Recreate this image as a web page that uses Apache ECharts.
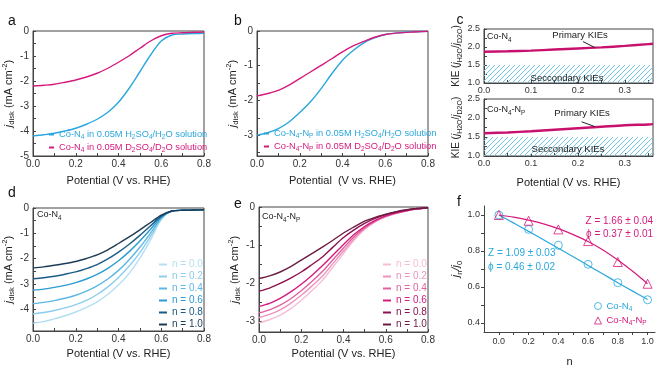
<!DOCTYPE html>
<html><head><meta charset="utf-8">
<script src="https://cdn.jsdelivr.net/npm/echarts@6/dist/echarts.min.js"></script>
<style>html,body{margin:0;padding:0;background:#fff}#c{width:666px;height:368px}</style>
</head><body><div id="c"></div>
<script>
// ---------- data ----------
const potential = [0,0.05,0.1,0.15,0.2,0.25,0.3,0.35,0.4,0.45,0.5,0.55,0.6,0.65,0.7,0.75,0.8];
// panel a : Co-N4
const aH2O = [-4.20,-4.15,-4.09,-4.00,-3.89,-3.73,-3.53,-3.25,-2.85,-2.29,-1.63,-0.96,-0.40,-0.16,-0.12,-0.10,-0.09];
const aD2O = [-2.20,-2.17,-2.13,-2.05,-1.96,-1.84,-1.69,-1.49,-1.25,-0.99,-0.69,-0.40,-0.19,-0.09,-0.07,-0.05,-0.04];
// panel b : Co-N4-NP
const bH2O = [-3.00,-2.93,-2.81,-2.62,-2.35,-2.04,-1.66,-1.23,-0.84,-0.56,-0.34,-0.20,-0.10,-0.06,-0.03,-0.02,-0.01];
const bD2O = [-1.87,-1.80,-1.71,-1.56,-1.37,-1.18,-0.99,-0.80,-0.60,-0.43,-0.30,-0.18,-0.10,-0.06,-0.04,-0.02,-0.01];
// panel d : Co-N4, proton inventory
const nLabels = ['n = 0.0','n = 0.2','n = 0.4','n = 0.6','n = 0.8','n = 1.0'];
const d_n00 = [-4.54,-4.48,-4.37,-4.25,-4.10,-3.92,-3.70,-3.40,-3.04,-2.58,-1.98,-1.26,-0.46,-0.12,-0.09,-0.08,-0.07];
const d_n02 = [-4.17,-4.12,-4.04,-3.94,-3.81,-3.64,-3.41,-3.11,-2.74,-2.29,-1.76,-1.12,-0.43,-0.12,-0.09,-0.08,-0.07];
const d_n04 = [-3.77,-3.72,-3.65,-3.56,-3.44,-3.28,-3.07,-2.80,-2.46,-2.04,-1.55,-0.99,-0.40,-0.12,-0.09,-0.08,-0.07];
const d_n06 = [-3.24,-3.20,-3.13,-3.05,-2.94,-2.80,-2.62,-2.38,-2.08,-1.72,-1.30,-0.84,-0.36,-0.12,-0.09,-0.08,-0.07];
const d_n08 = [-2.79,-2.75,-2.69,-2.61,-2.52,-2.39,-2.23,-2.01,-1.74,-1.43,-1.08,-0.70,-0.32,-0.12,-0.09,-0.08,-0.07];
const d_n10 = [-2.36,-2.32,-2.26,-2.19,-2.11,-1.99,-1.85,-1.65,-1.40,-1.14,-0.86,-0.57,-0.28,-0.12,-0.09,-0.08,-0.07];
// panel e : Co-N4-NP, proton inventory
const e_n00 = [-3.03,-2.95,-2.83,-2.66,-2.44,-2.19,-1.92,-1.57,-1.22,-0.87,-0.59,-0.39,-0.26,-0.17,-0.10,-0.05,-0.02];
const e_n02 = [-2.89,-2.81,-2.69,-2.52,-2.31,-2.07,-1.81,-1.48,-1.15,-0.83,-0.57,-0.38,-0.25,-0.16,-0.10,-0.05,-0.02];
const e_n04 = [-2.77,-2.69,-2.57,-2.40,-2.19,-1.95,-1.69,-1.38,-1.07,-0.78,-0.54,-0.37,-0.24,-0.16,-0.10,-0.05,-0.02];
const e_n06 = [-2.60,-2.52,-2.39,-2.22,-2.02,-1.79,-1.54,-1.26,-0.98,-0.72,-0.51,-0.35,-0.23,-0.15,-0.09,-0.05,-0.02];
const e_n08 = [-2.20,-2.12,-2.00,-1.86,-1.70,-1.51,-1.31,-1.05,-0.80,-0.60,-0.43,-0.30,-0.20,-0.13,-0.08,-0.04,-0.02];
const e_n10 = [-1.87,-1.80,-1.70,-1.56,-1.39,-1.22,-1.05,-0.87,-0.68,-0.52,-0.37,-0.27,-0.19,-0.12,-0.07,-0.04,-0.02];
// panel c : KIE
const kieX = [0,0.05,0.1,0.15,0.2,0.25,0.3,0.35,0.36];
const kieCoN4 = [1.87,1.88,1.90,1.93,1.96,1.99,2.03,2.08,2.09];
const kieCoN4NP = [1.60,1.62,1.65,1.69,1.73,1.77,1.81,1.83,1.84];
// panel f : proton inventory fit
const fN = [0,0.2,0.4,0.6,0.8,1.0];
const fCoN4 = [1.0,0.92,0.832,0.726,0.624,0.529];
const fCoN4NP = [1.0,0.968,0.92,0.855,0.739,0.618];
const fFitN = [0,0.1,0.2,0.3,0.4,0.5,0.6,0.7,0.8,0.9,1.0];
const fFitCoN4 = [1.0,0.955,0.909,0.862,0.815,0.768,0.72,0.672,0.624,0.577,0.53];
const fFitCoN4NP = [1.0,0.988,0.972,0.951,0.924,0.891,0.853,0.806,0.75,0.687,0.618];
// tick labels
const lsvXLabels = [0,0.2,0.4,0.6,0.8];
const lsvXTicks = [0,0.1,0.2,0.3,0.4,0.5,0.6,0.7,0.8];
const aYLabels = [-5,-4,-3,-2,-1,0];
const aYTicks = [-5,-4.5,-4,-3.5,-3,-2.5,-2,-1.5,-1,-0.5,0];
const bYLabels = [-3,-2,-1,0];
const bYTicks = [-3.5,-3,-2.5,-2,-1.5,-1,-0.5,0];
const dYLabels = [-4,-3,-2,-1,0];
const dYTicks = [-4.5,-4,-3.5,-3,-2.5,-2,-1.5,-1,-0.5,0];
const eYLabels = [-3,-2,-1,0];
const eYTicks = [-3,-2.5,-2,-1.5,-1,-0.5,0];
const cXLabels = [0,0.1,0.2,0.3];
const cXTicks = [0,0.05,0.1,0.15,0.2,0.25,0.3,0.35];
const cYLabels = [1.0,1.5,2.0,2.5];
const cYTicks = [1.0,1.25,1.5,1.75,2.0,2.25,2.5];
const fXLabels = [0,0.2,0.4,0.6,0.8,1.0];
const fXTicks = [0,0.1,0.2,0.3,0.4,0.5,0.6,0.7,0.8,0.9,1.0];
const fYLabels = [0.4,0.6,0.8,1.0];
const fYTicks = [0.4,0.5,0.6,0.7,0.8,0.9,1.0];

// ---------- style ----------
const FF = 'Liberation Sans, Arial, Helvetica, sans-serif';
const CY = '#2aa7dc', MG = '#d61a7d', KIEC = '#c8116f', AX = '#444';
const dColors = ['#b4dff2','#8ccdec','#5cb8e3','#2a9bd3','#1b5c86','#1c3b56'];
const eColors = ['#f6bdd6','#ee93bf','#e2609f','#d41a80','#8c124f','#6b1c42'];

function R(F){
  const s = +(F*0.7).toFixed(1), L = Math.round(F*1.35);
  return {
    n:{fontSize:F, lineHeight:L, verticalAlign:'middle', fontFamily:FF},
    i:{fontSize:F, lineHeight:L, verticalAlign:'middle', fontStyle:'italic', fontFamily:FF},
    s:{fontSize:s, lineHeight:s, verticalAlign:'bottom', fontFamily:FF},
    p:{fontSize:s, lineHeight:s, verticalAlign:'top', fontFamily:FF}
  };
}

// hatch pattern
const pc = document.createElement('canvas');
pc.width = 5; pc.height = 5;
const ctx = pc.getContext('2d');
ctx.strokeStyle = '#74c6e6'; ctx.lineWidth = 1;
ctx.beginPath();
ctx.moveTo(0,5); ctx.lineTo(5,0);
ctx.moveTo(-1,1); ctx.lineTo(1,-1);
ctx.moveTo(4,6); ctx.lineTo(6,4);
ctx.stroke();

const grids = [
  {left:33, top:31, width:171, height:125},
  {left:257, top:31, width:171, height:125},
  {left:484, top:29, width:169, height:54},
  {left:484, top:99, width:169, height:57},
  {left:33, top:208, width:171, height:123},
  {left:259, top:207, width:169, height:125},
  {left:484, top:206, width:171, height:126}
].map((g,i)=>Object.assign({show: i!==6, borderColor:AX, borderWidth:1, containLabel:false}, g));

function axis(kind, gi, min, max, labels, ticks, o){
  o = o || {};
  return {
    type:'value', gridIndex:gi, min, max,
    axisLine:{show:true, onZero:false, lineStyle:{color:AX, width:1}},
    axisTick:{show:true, inside: !o.out, length:3, customValues:ticks, lineStyle:{color:AX}},
    axisLabel:{customValues:labels, formatter: o.fmt || (v=>v.toFixed(1)), color:'#333', fontSize:o.fs||10, margin:o.margin||3, fontFamily:FF},
    splitLine:{show:false},
    name:o.name||'', nameLocation:'middle', nameGap:o.gap||18,
    nameTextStyle:{fontSize:o.nfs||11, color:'#222', fontFamily:FF, rich:R(o.nfs||11)}
  };
}
const intFmt = v => String(v);
const jdisk = '{i|j}{s|disk}{n| (mA cm}{p|-2}{n|)}';
const POT = 'Potential (V vs. RHE)';
const kieName = '{n|KIE (}{i|j}{s|H2O}{n|/}{i|j}{s|D2O}{n|)}';

const xAxes = [
  axis('x',0,0,0.8,lsvXLabels,lsvXTicks,{name:POT,gap:19}),
  axis('x',1,0,0.8,lsvXLabels,lsvXTicks,{name:'Potential  (V vs. RHE)',gap:19}),
  axis('x',2,0,0.36,cXLabels,cXTicks,{fs:9}),
  axis('x',3,0,0.36,cXLabels,cXTicks,{fs:9,name:POT,gap:21}),
  axis('x',4,0,0.8,lsvXLabels,lsvXTicks,{name:POT,gap:17}),
  axis('x',5,0,0.8,lsvXLabels,lsvXTicks,{name:POT,gap:16}),
  axis('x',6,-0.1,1.05,fXLabels,fXTicks,{fs:9,out:true,margin:5,name:'n',gap:24})
];
const yAxes = [
  axis('y',0,-5,0,aYLabels,aYTicks,{fmt:intFmt,name:jdisk,gap:16,margin:4}),
  axis('y',1,-3.6,0,bYLabels,bYTicks,{fmt:intFmt,name:jdisk,gap:16,margin:4}),
  axis('y',2,1.0,2.5,cYLabels,cYTicks,{fs:9,name:kieName,gap:19,nfs:10,margin:4}),
  axis('y',3,1.0,2.5,cYLabels,cYTicks,{fs:9,name:kieName,gap:19,nfs:10,margin:4}),
  axis('y',4,-4.85,0,dYLabels,dYTicks,{fmt:intFmt,name:jdisk,gap:16,margin:4}),
  axis('y',5,-3.27,0,eYLabels,eYTicks,{fmt:intFmt,name:jdisk,gap:15,margin:4}),
  axis('y',6,0.35,1.05,fYLabels,fYTicks,{fs:9,out:true,margin:4,name:'{i|j}{s|n}{i|/j}{s|0}',gap:19})
];

function line(name, gi, xs, ys, color, width){
  return {name, type:'line', xAxisIndex:gi, yAxisIndex:gi, data:xs.map((x,i)=>[x,ys[i]]),
    smooth:0.3, symbol:'none', showSymbol:false,
    lineStyle:{color, width:width||1.4}, itemStyle:{color}, animation:false, z:3};
}

const series = [
  line('aH',0,potential,aH2O,CY),
  line('aD',0,potential,aD2O,MG),
  line('bH',1,potential,bH2O,CY),
  line('bD',1,potential,bD2O,MG)
];
[d_n00,d_n02,d_n04,d_n06,d_n08,d_n10].forEach((arr,i)=>series.push(line('d'+nLabels[i],4,potential,arr,dColors[i],1.4)));
[e_n00,e_n02,e_n04,e_n06,e_n08,e_n10].forEach((arr,i)=>series.push(line('e'+nLabels[i],5,potential,arr,eColors[i],1.4)));

function kieSeries(gi, ys, arrow){
  const s = line('kie'+gi, gi, kieX, ys, KIEC, 2.4);
  s.markArea = {silent:true, itemStyle:{color:{image:pc, repeat:'repeat'}}, data:[[{yAxis:1.0},{yAxis:1.5}]]};
  s.markLine = {silent:true, symbol:['none','arrow'], symbolSize:[0,6], animation:false,
    lineStyle:{color:'#222', width:1, type:'solid'}, label:{show:false},
    data:[[{coord:arrow[0]},{coord:arrow[1]}]]};
  return s;
}
series.push(kieSeries(2, kieCoN4, [[0.211,2.15],[0.236,1.985]]));
series.push(kieSeries(3, kieCoN4NP, [[0.208,1.90],[0.236,1.775]]));

series.push(line('fitA',6,fFitN,fFitCoN4,CY,1.2));
series.push(line('fitB',6,fFitN,fFitCoN4NP,MG,1.2));
series.push({name:'fA', type:'scatter', xAxisIndex:6, yAxisIndex:6, data:fN.map((x,i)=>[x,fCoN4[i]]),
  symbol:'circle', symbolSize:8, itemStyle:{color:'rgba(255,255,255,0)', borderColor:CY, borderWidth:1}, animation:false, z:4});
series.push({name:'fB', type:'scatter', xAxisIndex:6, yAxisIndex:6, data:fN.map((x,i)=>[x,fCoN4NP[i]]),
  symbol:'triangle', symbolSize:9, itemStyle:{color:'rgba(255,255,255,0)', borderColor:MG, borderWidth:1}, animation:false, z:4});

const legText = {
  aH:'{n|Co-N}{s|4}{n| in 0.05M H}{s|2}{n|SO}{s|4}{n|/H}{s|2}{n|O solution}',
  aD:'{n|Co-N}{s|4}{n| in 0.05M D}{s|2}{n|SO}{s|4}{n|/D}{s|2}{n|O solution}',
  bH:'{n|Co-N}{s|4}{n|-N}{s|P}{n| in 0.05M H}{s|2}{n|SO}{s|4}{n|/H}{s|2}{n|O solution}',
  bD:'{n|Co-N}{s|4}{n|-N}{s|P}{n| in 0.05M D}{s|2}{n|SO}{s|4}{n|/D}{s|2}{n|O solution}',
  fA:'{n|Co-N}{s|4}',
  fB:'{n|Co-N}{s|4}{n|-N}{s|P}'
};
function legFmt(n){ return legText[n] !== undefined ? legText[n] : n.slice(1); }
const legends = [
  {left:49, top:130, orient:'vertical', itemGap:2, itemWidth:5, itemHeight:2, icon:'rect', padding:0, selectedMode:false,
   data:[{name:'aH',textStyle:{color:CY}},{name:'aD',textStyle:{color:MG}}], formatter:legFmt, textStyle:{fontSize:9.3, fontFamily:FF, rich:R(9.3)}},
  {left:264, top:129, orient:'vertical', itemGap:2, itemWidth:5, itemHeight:2, icon:'rect', padding:0, selectedMode:false,
   data:[{name:'bH',textStyle:{color:CY}},{name:'bD',textStyle:{color:MG}}], formatter:legFmt, textStyle:{fontSize:9.3, fontFamily:FF, rich:R(9.3)}},
  {left:159, top:259, orient:'vertical', itemGap:1, itemWidth:8, itemHeight:2, icon:'rect', padding:0, selectedMode:false,
   data:nLabels.map((l,i)=>({name:'d'+l, textStyle:{color:dColors[i]}})), formatter:legFmt, textStyle:{fontSize:10, fontFamily:FF, lineHeight:11}},
  {left:383, top:259, orient:'vertical', itemGap:1, itemWidth:8, itemHeight:2, icon:'rect', padding:0, selectedMode:false,
   data:nLabels.map((l,i)=>({name:'e'+l, textStyle:{color:eColors[i]}})), formatter:legFmt, textStyle:{fontSize:10, fontFamily:FF, lineHeight:11}},
  {left:594, top:301, orient:'vertical', itemGap:3, itemWidth:7, itemHeight:7, padding:0, selectedMode:false,
   data:[{name:'fA', icon:'circle', itemStyle:{color:'rgba(255,255,255,0)', borderColor:CY, borderWidth:1}, textStyle:{color:CY}},
         {name:'fB', icon:'triangle', itemStyle:{color:'rgba(255,255,255,0)', borderColor:MG, borderWidth:1}, textStyle:{color:MG}}],
   formatter:legFmt, textStyle:{fontSize:9.5, fontFamily:FF, rich:R(9.5)}}
];

function txt(x, y, text, opt){
  opt = opt || {};
  return {type:'text', x, y, silent:true, z:10, style:{text, fill:opt.fill||'#222', fontSize:opt.fs||9, fontFamily:FF,
    align:opt.align||'left', verticalAlign:'middle', rich:R(opt.fs||9), fontStyle:opt.italic?'italic':'normal'}};
}
const graphics = [
  txt(12,21,'a',{fs:14,align:'center',fill:'#111'}),
  txt(238,21,'b',{fs:14,align:'center',fill:'#111'}),
  txt(460,20,'c',{fs:14,align:'center',fill:'#111'}),
  txt(12,193,'d',{fs:14,align:'center',fill:'#111'}),
  txt(238,204,'e',{fs:14,align:'center',fill:'#111'}),
  txt(459,202,'f',{fs:14,align:'center',fill:'#111'}),
  txt(487,37,'{n|Co-N}{s|4}',{fs:9}),
  txt(487,110,'{n|Co-N}{s|4}{n|-N}{s|P}',{fs:9}),
  txt(37,215,'{n|Co-N}{s|4}',{fs:9}),
  txt(262,217,'{n|Co-N}{s|4}{n|-N}{s|P}',{fs:9}),
  txt(580,35,'{n|Primary KIEs}',{fs:9.5,align:'center'}),
  txt(582,113,'{n|Primary KIEs}',{fs:9.5,align:'center'}),
  txt(567,78,'{n|Seccondary KIEs}',{fs:9.5,align:'center'}),
  txt(568,149,'{n|Seccondary KIEs}',{fs:9.5,align:'center'}),
  txt(653,221,'{n|Z = 1.66 ± 0.04}',{fs:10,align:'right',fill:MG}),
  txt(653,234,'{n|ϕ = 0.37 ± 0.01}',{fs:10,align:'right',fill:MG}),
  txt(488,253,'{n|Z = 1.09 ± 0.03}',{fs:10,fill:CY}),
  txt(488,267,'{n|ϕ = 0.46 ± 0.02}',{fs:10,fill:CY})
];

const chart = echarts.init(document.getElementById('c'), null, {renderer:'canvas'});
chart.setOption({
  animation:false,
  backgroundColor:'#fff',
  textStyle:{fontFamily:FF},
  grid:grids, xAxis:xAxes, yAxis:yAxes, series, legend:legends, graphic:graphics
});
</script></body></html>
